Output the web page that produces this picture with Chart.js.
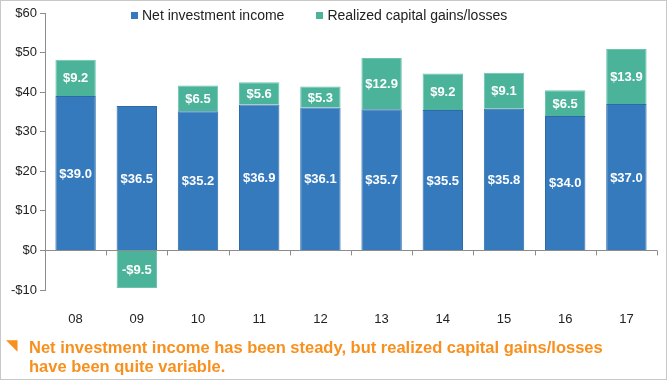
<!DOCTYPE html>
<html>
<head>
<meta charset="utf-8">
<script src="https://cdn.jsdelivr.net/npm/chart.js@4"></script>
<style>
  body { margin: 0; background: #fff; }
  #frame { position: relative; width: 667px; height: 380px; box-sizing: border-box; border: 1px solid #c8c8c8; font-family: "Liberation Sans", Arial, sans-serif; overflow: hidden; }
  #box { position: absolute; left: 0; top: 0; width: 665px; height: 340px; }
  #legend { position: absolute; top: 6px; left: 130px; font-size: 14px; color: #222; white-space: nowrap; }
  #legend span.item { margin-right: 32px; }
  #legend i { display: inline-block; width: 7px; height: 7px; margin-right: 4px; vertical-align: 1px; }
  #note { position: absolute; left: 28px; top: 337px; color: #f7901e; font-weight: bold; font-size: 16.5px; line-height: 19px; white-space: nowrap; }
  #mark { position: absolute; left: 5px; top: 335px; color: #f7901e; font-size: 15px; }
</style>
</head>
<body>
<div id="frame">
  <div id="box"><canvas id="investChart"></canvas></div>
  <div id="legend"></div>
  <div id="mark">◥</div>
  <div id="note">Net investment income has been steady, but realized capital gains/losses<br>have been quite variable.</div>
</div>
<script>
const years = ["08", "09", "10", "11", "12", "13", "14", "15", "16", "17"];
const netIncome = [39.0, 36.5, 35.2, 36.9, 36.1, 35.7, 35.5, 35.8, 34.0, 37.0];
const capitalGains = [9.2, -9.5, 6.5, 5.6, 5.3, 12.9, 9.2, 9.1, 6.5, 13.9];
const seriesNames = ["Net investment income", "Realized capital gains/losses"];
const seriesColors = ["#357abd", "#4bb39a"];
const yTicks = [-10, 0, 10, 20, 30, 40, 50, 60];

function money(v) {
    return (v < 0 ? "-$" : "$") + Math.abs(v).toFixed(1);
}

// legend drawn in html so it can sit inside the plot like the original
document.getElementById("legend").innerHTML = seriesNames.map((n, i) =>
    `<span class="item"><i style="background:${seriesColors[i]}"></i>${n}</span>`).join("");

const barLabels = {
    id: "barLabels",
    afterDatasetsDraw(chart) {
        const ctx = chart.ctx;
        ctx.save();
        ctx.fillStyle = "#fff";
        ctx.font = "bold 13px 'Liberation Sans', Arial, sans-serif";
        ctx.textAlign = "center";
        ctx.textBaseline = "middle";
        chart.data.datasets.forEach((ds, di) => {
            chart.getDatasetMeta(di).data.forEach((bar, i) => {
                ctx.fillText(money(ds.data[i]), bar.x, (bar.y + bar.base) / 2 + 1);
            });
        });
        ctx.restore();
    }
};

// small tick marks along the zero line, between the categories
const zeroTicks = {
    id: "zeroTicks",
    afterDraw(chart) {
        const x = chart.scales.x, y = chart.scales.y;
        const y0 = y.getPixelForValue(0);
        const step = x.getPixelForValue(1) - x.getPixelForValue(0);
        const ctx = chart.ctx;
        ctx.save();
        ctx.strokeStyle = "#8c8c8c";
        ctx.lineWidth = 1;
        for (let i = 1; i <= years.length; i++) {
            const px = Math.round(x.getPixelForValue(i) - step / 2) + 0.5;
            ctx.beginPath();
            ctx.moveTo(px, y0);
            ctx.lineTo(px, y0 + 5);
            ctx.stroke();
        }
        ctx.restore();
    }
};

new Chart(document.getElementById("investChart"), {
    type: "bar",
    data: {
        labels: years,
        datasets: [{
            label: seriesNames[0],
            data: netIncome,
            backgroundColor: seriesColors[0],
            borderColor: "#2c6aa8",
            borderWidth: 1
        }, {
            label: seriesNames[1],
            data: capitalGains,
            backgroundColor: seriesColors[1],
            borderColor: "#6cc4ae",
            borderWidth: 1
        }]
    },
    options: {
        responsive: true,
        maintainAspectRatio: false,
        animation: false,
        layout: { padding: { top: 12, right: 9, left: 0, bottom: 0 } },
        datasets: { bar: { barPercentage: 0.66, categoryPercentage: 1 } },
        plugins: { legend: { display: false }, tooltip: { enabled: false } },
        scales: {
            x: {
                stacked: true,
                grid: { display: false },
                border: { display: false },
                ticks: { color: "#222", font: { size: 13, family: "'Liberation Sans', Arial, sans-serif" }, padding: 14 },
                afterFit(s) { s.height = 51; }
            },
            y: {
                stacked: true,
                min: -10,
                max: 60,
                afterBuildTicks(s) { s.ticks = yTicks.map(v => ({ value: v })); },
                grid: {
                    color: c => c.tick && c.tick.value === 0 ? "#8c8c8c" : "rgba(0,0,0,0)",
                    tickColor: "#8c8c8c",
                    tickLength: 5
                },
                border: { display: true, color: "#8c8c8c" },
                ticks: {
                    color: "#222",
                    padding: 3,
                    font: { size: 13, family: "'Liberation Sans', Arial, sans-serif" },
                    callback: v => (v < 0 ? "-$" : "$") + Math.abs(v)
                },
                afterFit(s) { s.width = 44; }
            }
        }
    },
    plugins: [barLabels, zeroTicks]
});
</script>
</body>
</html>
